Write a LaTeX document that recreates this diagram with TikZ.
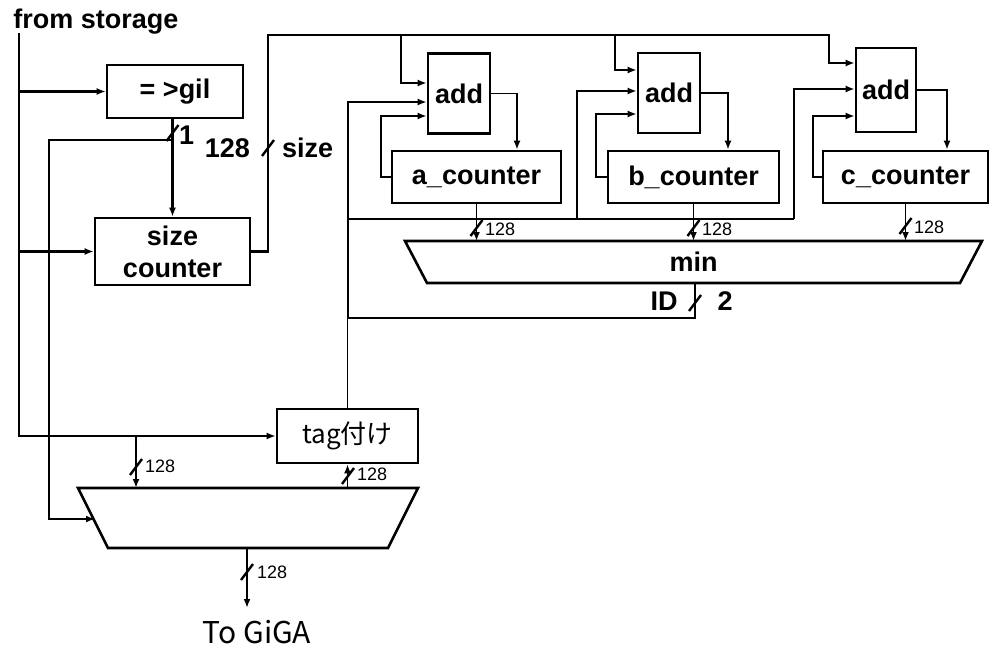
\documentclass[tikz,border=0pt]{standalone}
\usepackage{fontspec}
\setmainfont{Liberation Sans}
\newfontfamily\jpfont{Noto Sans CJK JP}
\usetikzlibrary{arrows.meta}
\tikzset{
  blockbox/.style={draw, line width=2.6pt, align=center, inner sep=0pt,
                   font=\fontsize{27}{32}\selectfont\bfseries},
  adder/.style={blockbox, minimum width=62pt, minimum height=80pt},
  counterbox/.style={blockbox, minimum height=52pt},
  muxline/.style={line width=2.6pt, line join=miter},
  wire/.style={line width=1.8pt},
  bus/.style={line width=2.6pt},
  sig/.style={-{Latex[length=9pt,width=7pt]}},
  widthlabel/.style={font=\fontsize{18}{18}\selectfont, inner sep=0pt, anchor=west},
  biglabel/.style={font=\fontsize{27}{27}\selectfont\bfseries, inner sep=0pt},
  busslash/.pic={\draw[line width=2.4pt] (-6,8) -- (6,-8);}
}

\begin{document}
\begin{tikzpicture}[x=1pt, y=-1pt]
  \useasboundingbox (0,0) rectangle (990,648);

  % blocks
  \node[biglabel] (storage) at (96,22) {from storage};
  \node[blockbox, minimum width=136pt, minimum height=53pt] (gil) at (175,91.5) {= >gil};
  \node[blockbox, minimum width=155pt, minimum height=67pt] (size) at (172.5,251.5) {size\\counter};
  \node[adder] (add1) at (459,93.5) {add};
  \node[adder] (add2) at (669,93) {add};
  \node[adder, minimum width=60pt, minimum height=84pt] (add3) at (886,90) {add};
  \node[counterbox, minimum width=169pt] (a_counter) at (476.5,177) {a\_counter};
  \node[counterbox, minimum width=171pt] (b_counter) at (693.5,177) {b\_counter};
  \node[counterbox, minimum width=165pt] (c_counter) at (905.5,177) {c\_counter};
  \node[blockbox, minimum width=141pt, minimum height=54pt,
        font=\fontsize{26}{26}\selectfont\jpfont] (tag) at (347.5,436) {tag付け};
  \node[font=\fontsize{30}{30}\selectfont\jpfont, inner sep=0pt] (giga) at (257,632) {To GiGA};

  % min selector
  \draw[muxline] (405,241) -- (982,241) -- (960,283) -- (427,283) -- cycle;
  \node[biglabel] (min) at (693.5,262) {min};
  \coordinate (mintop) at (693.5,241);
  \coordinate (minout) at (695,283);

  % output mux
  \draw[muxline] (78,488) -- (418,488) -- (388,548) -- (108,548) -- cycle;
  \coordinate (muxtop) at (248,488);
  \coordinate (muxsel) at (95,519);
  \coordinate (muxout) at (247,548);

  % input from storage
  \coordinate (src) at (19,33);
  \draw[bus,sig] (src) |- (tag.west);
  \draw[bus,sig] (src |- gil.west) -- (gil.west);
  \draw[bus,sig] (src |- size.west) -- (size.west);
  \coordinate (tapA) at (tag.west -| 136,0);
  \draw[bus,sig] (tapA) -- (tapA |- muxtop);
  \pic at (136,467) {busslash};
  \node[widthlabel] (wtap) at (145,466) {128};

  % gil flag
  \draw[bus,sig] (size.north |- gil.south) -- (size.north);
  \pic at (size.north |- 0,133) {busslash};
  \node[biglabel, anchor=west] (onebit) at (179,135) {1};
  \coordinate (selL) at (49,140);
  \draw[bus,sig] (size.north |- selL) -- (selL) |- (muxsel);

  % size bus
  \draw[bus,sig] (size.east) -- (268,251.5) -- (268,35) -- (829,35) |- (add3.west |- 0,63);
  \draw[bus,sig] (401,35) |- (add1.west |- 0,83);
  \draw[bus,sig] (615,35) |- (add2.west |- 0,70);
  \pic at (268,148) {busslash};
  \node[biglabel, anchor=east] (szw) at (250,148) {128};
  \node[biglabel, anchor=west] (szn) at (282,148) {size};

  % ID from min
  \draw[wire] (minout) -- (minout |- 0,318) -| (tag.north);
  \draw[wire,sig] (348,318) |- (add1.west |- 0,102);
  \draw[wire] (348,219) -- (794,219);
  \draw[wire,sig] (577,219) |- (add2.west |- 0,91);
  \draw[wire,sig] (794,219) |- (add3.west |- 0,89);
  \pic at (minout |- 0,303) {busslash};
  \node[biglabel] (idl) at (664,301) {ID};
  \node[biglabel] (idw) at (725,301) {2};

  % counter feedback
  \draw[bus,sig] (a_counter.west) -- (381,177) |- (add1.west |- 0,116);
  \draw[bus,sig] (b_counter.west) -- (596,177) |- (add2.west |- 0,114);
  \draw[bus,sig] (c_counter.west) -- (813,177) |- (add3.west |- 0,116);
  \draw[wire,sig] (add1.east) -| (a_counter.north -| 517,0);
  \draw[wire,sig] (add2.east) -| (b_counter.north -| 728,0);
  \draw[bus,sig] (add3.east) -| (c_counter.north -| 947,0);

  % counters to min
  \draw[wire,sig] (a_counter.south) -- (a_counter.south |- mintop);
  \draw[wire,sig] (b_counter.south) -- (b_counter.south |- mintop);
  \draw[wire,sig] (c_counter.south) -- (c_counter.south |- mintop);
  \pic at (a_counter.south |- 0,228) {busslash};
  \pic at (b_counter.south |- 0,228) {busslash};
  \pic at (c_counter.south |- 0,226) {busslash};
  \node[widthlabel] (wa) at (485,229) {128};
  \node[widthlabel] (wb) at (702,229) {128};
  \node[widthlabel] (wc) at (914,227) {128};

  % tag and output mux
  \draw[wire,sig] (tag.south |- muxtop) -- (tag.south);
  \pic at (348,476) {busslash};
  \node[widthlabel] (wtag) at (357,474) {128};
  \draw[wire,sig] (muxout) -- (muxout |- 0,608);
  \pic at (muxout |- 0,572) {busslash};
  \node[widthlabel] (wout) at (257,572) {128};
\end{tikzpicture}
\end{document}
